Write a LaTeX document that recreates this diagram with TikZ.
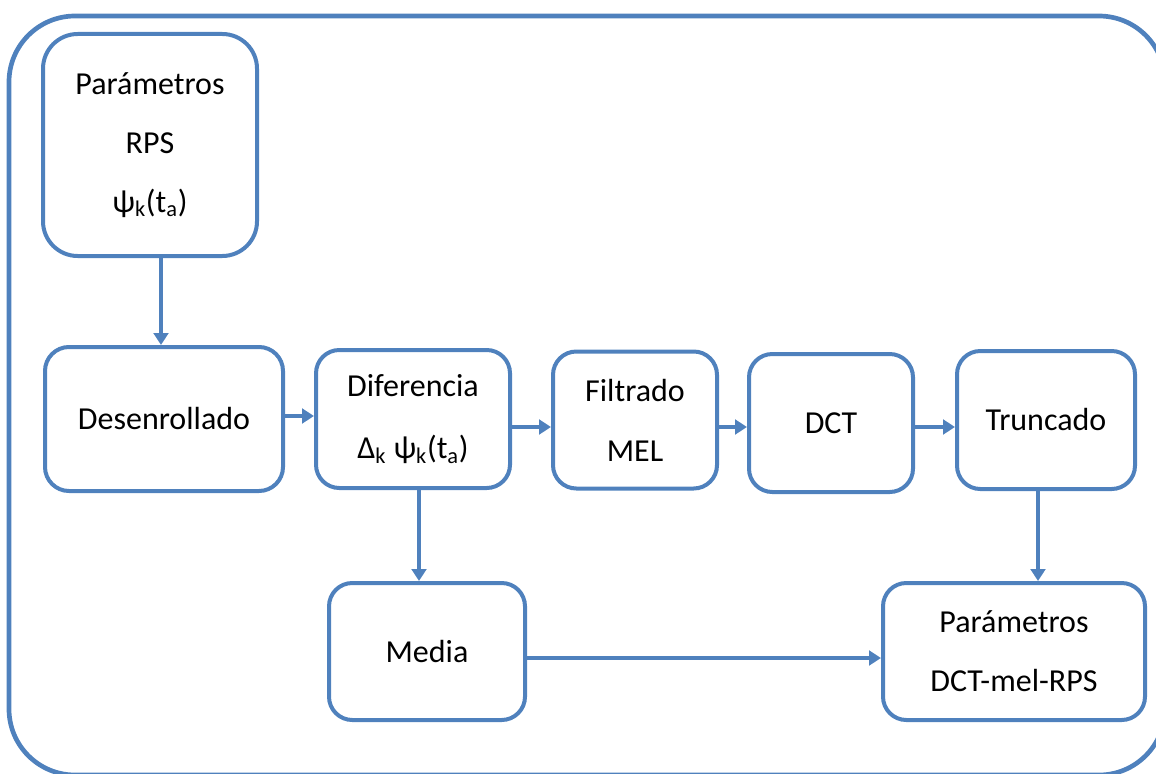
\documentclass[tikz,border=0pt]{standalone}
\usepackage{fontspec}
\setmainfont{Carlito}
\usetikzlibrary{arrows.meta}
\definecolor{officeblue}{RGB}{79,129,189}
\begin{document}
\begin{tikzpicture}[x=0.75pt,y=-0.75pt,
  blk/.style={draw=officeblue, line width=3pt, rounded corners=17.5pt,
    inner sep=0pt, align=center, text=black,
    font=\fontsize{24}{45}\selectfont},
  arr/.style={draw=officeblue, line width=3pt,
    -{Triangle[length=9pt,width=11pt]}},
  frame/.style={draw=officeblue, line width=3.5pt, rounded corners=49.5pt}]
\useasboundingbox (0,0) rectangle (1156,774);
% outer frame, partly running off the page
\begin{scope}
  \clip (0,0) rectangle (1156,774);
  \draw[frame] (9,16) rectangle (1165,775);
\end{scope}

% processing blocks
\node[blk, minimum width=160.5pt, minimum height=166.5pt, rounded corners=26pt,
  font=\fontsize{24}{44}\selectfont] (rps) at (150,145)
  {Parámetros\\RPS\\ψ\textsubscript{k}(t\textsubscript{a})};
\node[blk, minimum width=178.5pt, minimum height=108pt, rounded corners=18pt]
  (des) at (164,419) {Desenrollado};
\node[blk, minimum width=145.5pt, minimum height=103.5pt, font=\fontsize{24}{46}\selectfont]
  (dif) at (413,419) {Diferencia\\Δ\textsubscript{k} ψ\textsubscript{k}(t\textsubscript{a})};
\node[blk, minimum width=123pt, minimum height=102.75pt]
  (fil) at (635,420) {Filtrado\\MEL};
\node[blk, minimum width=123pt, minimum height=103.5pt]
  (dct) at (831,423) {DCT};
\node[blk, minimum width=133.5pt, minimum height=103.5pt]
  (tru) at (1046,420) {Truncado};
\node[blk, minimum width=147pt, minimum height=102.75pt]
  (med) at (427,651.5) {Media};
\node[blk, minimum width=196.5pt, minimum height=102.75pt,
  font=\fontsize{24}{44}\selectfont]
  (out) at (1014,651.5) {Parámetros\\DCT-mel-RPS};

% connectors
\draw[arr] (rps.south -| 161,0) -- (des.north -| 161,0);
\draw[arr] (des.east |- 0,416) -- (dif.west |- 0,416);
\draw[arr] (dif.east |- 0,427) -- (fil.west |- 0,427);
\draw[arr] (fil.east |- 0,427) -- (dct.west |- 0,427);
\draw[arr] (dct.east |- 0,427) -- (tru.west |- 0,427);
\draw[arr] (dif.south -| 419,0) -- (med.north -| 419,0);
\draw[arr] (tru.south -| 1038,0) -- (out.north -| 1038,0);
\draw[arr] (med.east |- 0,658) -- (out.west |- 0,658);
\end{tikzpicture}
\end{document}
